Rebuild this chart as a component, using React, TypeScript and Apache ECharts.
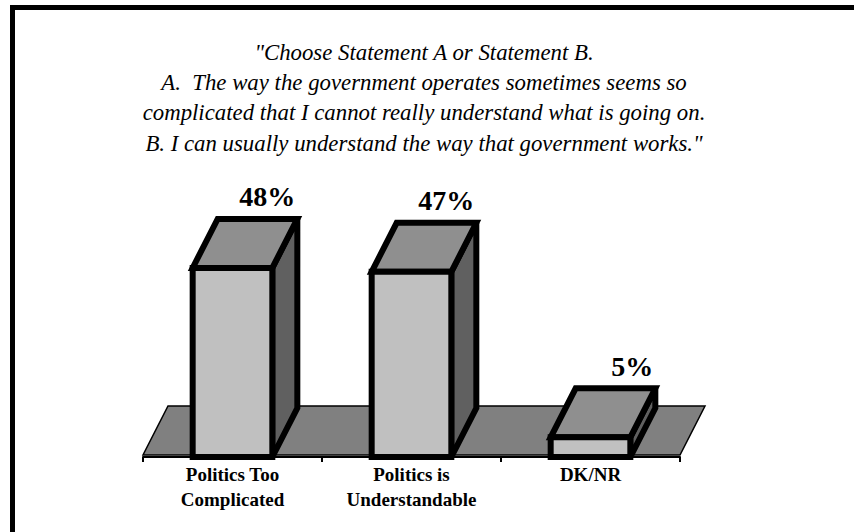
import React, { useEffect, useRef } from "react";
import * as echarts from "echarts";

const categories = ["Politics Too\nComplicated", "Politics is\nUnderstandable", "DK/NR"];
const values = [48, 47, 5];
const valueLabels = ["48%", "47%", "5%"];
const titleLines = [
  "\"Choose Statement A or Statement B.",
  "A.  The way the government operates sometimes seems so",
  "complicated that I cannot really understand what is going on.",
  "B. I can usually understand the way that government works.\"",
];

export default function App() {
  const ref = useRef<HTMLDivElement>(null);
  useEffect(() => {
    document.body.style.margin = "0";
    const chart = echarts.init(ref.current!, null, { renderer: "svg" });
    const DX = 25;
    const DY = -49;
    const BAR_RATIO = 0.445;
    const serif = "Liberation Serif";

    chart.setOption({
      animation: false,
      backgroundColor: "#ffffff",
      grid: { left: 143, right: 174, top: 260, bottom: 75 },
      xAxis: {
        type: "category",
        data: categories,
        axisLine: { show: true, lineStyle: { color: "#000", width: 2 } },
        axisTick: { show: true, length: 5, lineStyle: { color: "#000", width: 2 } },
        axisLabel: {
          interval: 0,
          hideOverlap: false,
          color: "#000",
          fontFamily: serif,
          fontWeight: "bold",
          fontSize: 19,
          lineHeight: 25,
          margin: 5,
        },
        z: 1,
      },
      yAxis: {
        type: "value",
        min: 0,
        max: 50,
        show: false,
        splitLine: { show: false },
      },
      graphic: [
        { type: "rect", shape: { x: 10, y: 5, width: 5, height: 527 }, style: { fill: "#000" } },
        { type: "rect", shape: { x: 10, y: 5, width: 844, height: 5 }, style: { fill: "#000" } },
        {
          type: "text",
          x: 424,
          y: 37,
          style: {
            text: titleLines.join("\n"),
            fill: "#000",
            fontFamily: serif,
            fontStyle: "italic",
            fontSize: 22.8,
            lineHeight: 30.3,
            textAlign: "center",
            textVerticalAlign: "top",
          },
        },
      ],
      series: [
        {
          type: "custom",
          z: 0,
          data: [[0, 0]],
          renderItem: (params: any, api: any) => {
            const p0 = api.coord([0, 0]);
            const band = api.size([1, 0])[0];
            const left = p0[0] - band / 2;
            const right = left + band * categories.length;
            const y = p0[1] - 2;
            return {
              type: "polygon",
              shape: {
                points: [
                  [left, y],
                  [right, y],
                  [right + DX, y + DY],
                  [left + DX, y + DY],
                ],
              },
              style: { fill: "#808080", stroke: "#000", lineWidth: 1.5 },
            };
          },
        },
        {
          type: "custom",
          z: 5,
          data: values.map((v, i) => [i, v]),
          renderItem: (params: any, api: any) => {
            const x = api.value(0);
            const v = api.value(1);
            const base = api.coord([x, 0]);
            const top = api.coord([x, v]);
            const band = api.size([1, 0])[0];
            const w = band * BAR_RATIO;
            const l = base[0] - w / 2;
            const r = base[0] + w / 2;
            const b = base[1];
            const t = top[1];
            const stroke = { stroke: "#000", lineWidth: 6, lineJoin: "miter" };
            return {
              type: "group",
              children: [
                {
                  type: "polygon",
                  shape: { points: [[r, t], [r + DX, t + DY], [r + DX, b + DY], [r, b]] },
                  style: { fill: "#606060", ...stroke },
                },
                {
                  type: "polygon",
                  shape: { points: [[l, t], [r, t], [r + DX, t + DY], [l + DX, t + DY]] },
                  style: { fill: "#8f8f8f", ...stroke },
                },
                {
                  type: "rect",
                  shape: { x: l, y: t, width: w, height: b - t },
                  style: { fill: "#c0c0c0", ...stroke },
                },
                {
                  type: "text",
                  x: r + DX - 2,
                  y: t + DY - 8,
                  style: {
                    text: valueLabels[params.dataIndex],
                    fill: "#000",
                    fontFamily: serif,
                    fontWeight: "bold",
                    fontSize: 28,
                    textAlign: "right",
                    textVerticalAlign: "bottom",
                  },
                },
              ],
            };
          },
        },
      ],
    });
    return () => chart.dispose();
  }, []);
  return <div ref={ref} style={{ width: 854, height: 532 }} />;
}
